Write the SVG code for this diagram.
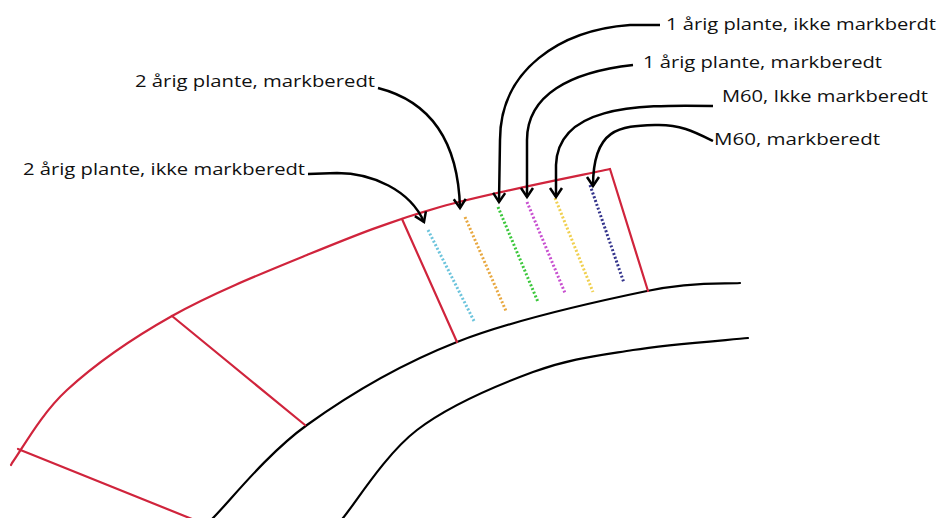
<svg xmlns="http://www.w3.org/2000/svg" width="938" height="518" viewBox="0 0 938 518">
<style>
.bg{fill:#ffffff}
.red{fill:none;stroke:#d0243c;stroke-width:2.2;stroke-linecap:round}
.road{fill:none;stroke:#000000;stroke-width:2.2;stroke-linecap:round}
.row{fill:none;stroke-width:3;stroke-dasharray:2 2}
.lead{fill:none;stroke:#000000;stroke-width:2.5;marker-end:url(#arr)}
.lbl{font-family:"Open Sans","DejaVu Sans",sans-serif;font-size:16px;fill:#111111}
</style>
<defs>
<marker id="arr" markerUnits="userSpaceOnUse" markerWidth="14" markerHeight="14" refX="9" refY="6" orient="auto" overflow="visible">
<path d="M0,0 L9,6 L0,12" fill="none" stroke="#000000" stroke-width="2.5" stroke-linejoin="miter"/>
</marker>
</defs>
<rect class="bg" x="0" y="0" width="938" height="518"/>

<g id="roads">
<path class="road" d="M208,524 L213,518 C228.7,502.5 266.3,454.3 307,425 C347.7,395.7 400.3,364.3 457,342 C513.7,319.7 599.8,300.8 647,291 C694.2,281.2 724.5,284.3 740,283"/>
<path class="road" d="M339,524 L343,518 C355.3,503.3 385.3,454.3 417,430 C448.7,405.7 497,385.3 533,372 C569,358.7 597.2,355.7 633,350 C668.8,344.3 728.8,340 748,338"/>
</g>

<g id="field">
<path class="red" d="M11,465 L12,463 C21.2,450.8 40.3,414.5 67,390 C93.7,365.5 132,338.5 172,316 C212,293.5 262.3,273.2 307,255 C351.7,236.8 389.5,221.3 440,207 C490.5,192.7 581.7,175.3 610,169"/>
<line class="red" x1="18" y1="449" x2="192" y2="519"/>
<line class="red" x1="172" y1="316" x2="305" y2="425"/>
<line class="red" x1="402" y1="219" x2="457" y2="342"/>
<line class="red" x1="610" y1="169" x2="648" y2="291"/>
</g>

<g id="rows">
<line class="row" stroke="#6cc4dc" x1="428" y1="230" x2="474" y2="321"/>
<line class="row" stroke="#e8a840" x1="465" y1="217" x2="506" y2="311"/>
<line class="row" stroke="#3cc83c" x1="498" y1="207" x2="538" y2="302"/>
<line class="row" stroke="#c850d0" x1="527" y1="202" x2="565" y2="293"/>
<line class="row" stroke="#f0d050" x1="555" y1="198" x2="593" y2="292"/>
<line class="row" stroke="#34348c" x1="590" y1="185" x2="624" y2="283"/>
</g>

<g id="connectors">
<path class="lead" d="M308,174 L337,173 C372,173 410,190 424,222"/>
<path class="lead" d="M378,88 C425,100 458,135 460,208"/>
<path class="lead" d="M660,25 L630,25 C560,30 500,70 500,140 L499,202"/>
<path class="lead" d="M633,65 C570,72 527,95 527,140 L527,197"/>
<path class="lead" d="M713,106 C630,104 558,108 556,165 L556,197"/>
<path class="lead" d="M713,141 C695,132 680,124 655,125 C620,126 593,128 593,186"/>
</g>

<g id="label-2aar-ikke"><text class="lbl" x="23" y="175" textLength="282" lengthAdjust="spacingAndGlyphs">2 årig plante, ikke markberedt</text></g>
<g id="label-2aar-mark"><text class="lbl" x="135" y="87" textLength="240" lengthAdjust="spacingAndGlyphs">2 årig plante, markberedt</text></g>
<g id="label-1aar-ikke"><text class="lbl" x="666" y="30" textLength="270" lengthAdjust="spacingAndGlyphs">1 årig plante, ikke markberdt</text></g>
<g id="label-1aar-mark"><text class="lbl" x="643" y="68" textLength="239" lengthAdjust="spacingAndGlyphs">1 årig plante, markberedt</text></g>
<g id="label-m60-ikke"><text class="lbl" x="722" y="102" textLength="206" lengthAdjust="spacingAndGlyphs">M60, Ikke markberedt</text></g>
<g id="label-m60-mark"><text class="lbl" x="714" y="145" textLength="166" lengthAdjust="spacingAndGlyphs">M60, markberedt</text></g>
</svg>
